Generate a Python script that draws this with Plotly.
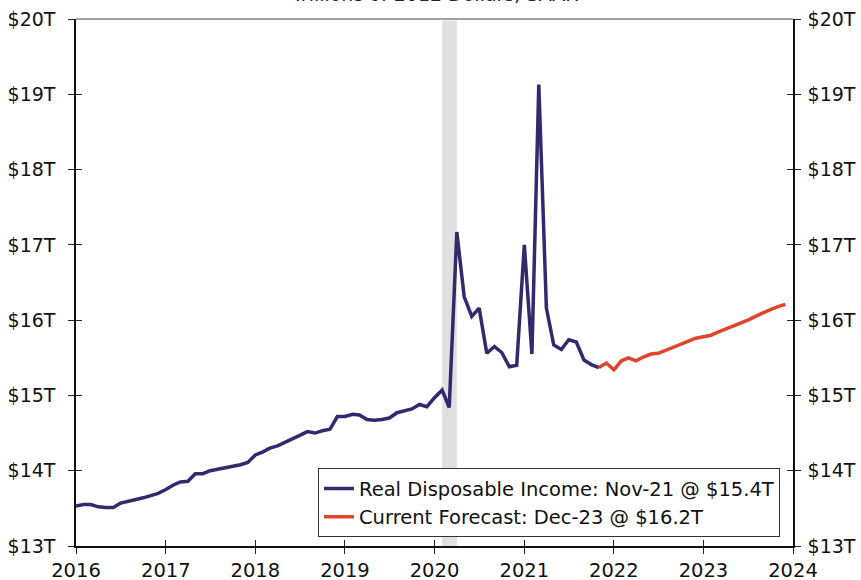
import pandas as pd
import plotly.graph_objects as go

# ---- data ----
history_dates = pd.date_range("2016-01-01", "2021-11-01", freq="MS")
history_values = [
    13.53, 13.55, 13.55, 13.52, 13.51, 13.51, 13.57, 13.59, 13.62, 13.64, 13.67, 13.70,
    13.75, 13.81, 13.85, 13.86, 13.96, 13.96, 14.00, 14.02, 14.03, 14.06, 14.08, 14.11,
    14.21, 14.25, 14.30, 14.33, 14.38, 14.43, 14.47, 14.52, 14.50, 14.53, 14.55, 14.72,
    14.72, 14.75, 14.74, 14.68, 14.67, 14.68, 14.70, 14.77, 14.80, 14.82, 14.88, 14.85,
    14.97, 15.07, 14.84, 17.17, 16.31, 16.05, 16.16, 15.56, 15.65, 15.57, 15.38, 15.40,
    17.00, 15.55, 19.13, 16.16, 15.67, 15.61, 15.74, 15.71, 15.47, 15.41, 15.37,
]
forecast_dates = pd.date_range("2021-11-01", "2023-12-01", freq="MS")
forecast_values = [
    15.37, 15.43,
    15.34, 15.46, 15.50, 15.46, 15.51, 15.55, 15.56, 15.60, 15.65, 15.69, 15.73, 15.76,
    15.78, 15.80, 15.84, 15.88, 15.93, 15.97, 16.00, 16.05, 16.10, 16.14, 16.18, 16.21,
]
recession = ["2020-02-01", "2020-04-01"]
history_name = "Real Disposable Income: Nov-21 @ $15.4T"
forecast_name = "Current Forecast: Dec-23 @ $16.2T"
title_text = "Trillions of 2012 Dollars, SAAR"
x_range = ["2016-01-01", "2024-01-01"]
x_ticks = ["2016-01-01", "2017-01-01", "2018-01-01", "2019-01-01", "2020-01-01",
           "2021-01-01", "2022-01-01", "2023-01-01", "2024-01-01"]
x_ticklabels = ["2016", "2017", "2018", "2019", "2020", "2021", "2022", "2023", "2024"]
y_range = [13, 20]
y_ticks = [13, 14, 15, 16, 17, 18, 19, 20]
y_ticklabels = ["$13T", "$14T", "$15T", "$16T", "$17T", "$18T", "$19T", "$20T"]

FONT = "DejaVu Sans"
NAVY = "#312a6c"
RED = "#e0442a"

fig = go.Figure()
fig.add_trace(go.Scatter(x=history_dates, y=history_values, mode="lines",
                         name=history_name, line=dict(color=NAVY, width=3.5),
                         hoverinfo="skip"))
fig.add_trace(go.Scatter(x=forecast_dates, y=forecast_values, mode="lines",
                         name=forecast_name, line=dict(color=RED, width=3.5),
                         hoverinfo="skip"))
# empty helper traces so the overlay axes (cross-style ticks, right axis) are drawn
for xa, ya in [("x2", "y2"), ("x", "y3"), ("x", "y4")]:
    fig.add_trace(go.Scatter(x=[], y=[], xaxis=xa, yaxis=ya, showlegend=False,
                             hoverinfo="skip"))

fig.add_shape(type="rect", xref="x", yref="paper", x0=recession[0], x1=recession[1],
              y0=0, y1=0.997, fillcolor="#e0e0e0", line=dict(width=0), layer="below")
# top border
fig.add_shape(type="line", xref="paper", yref="paper", x0=0, x1=1, y0=1, y1=1,
              line=dict(color="#808080", width=1.5))

fig.add_annotation(text=title_text, xref="paper", yref="paper", x=0.5, y=1.047,
                   yanchor="middle", showarrow=False,
                   font=dict(family=FONT, size=19, color="#222"))

tick_common = dict(ticklen=6, tickwidth=1, tickcolor="#222", automargin=False)
fig.update_layout(
    width=861, height=580,
    margin=dict(l=76, r=68, t=19, b=34),
    paper_bgcolor="white", plot_bgcolor="white",
    font=dict(family=FONT, size=18, color="#111"),
    showlegend=True,
    legend=dict(x=0.3375, y=0.1476, xanchor="left", yanchor="top",
                bgcolor="white", bordercolor="#333", borderwidth=1,
                font=dict(family=FONT, size=19.5, color="#111"),
                itemwidth=30, tracegroupgap=0),
    xaxis=dict(type="date", range=x_range, tickvals=x_ticks, ticktext=x_ticklabels,
               showgrid=False, zeroline=False, showline=True, linecolor="#111",
               linewidth=1.5, ticks="outside", **tick_common, ticklabelstandoff=0,
               tickfont=dict(family=FONT, size=19.5)),
    xaxis2=dict(type="date", overlaying="x", anchor="y", side="bottom",
                range=x_range, tickvals=x_ticks, showgrid=False, zeroline=False,
                showline=False, ticks="inside", showticklabels=False, **tick_common),
    yaxis=dict(range=y_range, tickvals=y_ticks, ticktext=y_ticklabels,
               showgrid=False, zeroline=False, showline=True, linecolor="#111",
               linewidth=1.5, ticks="outside", **tick_common, ticklabelstandoff=9,
               tickfont=dict(family=FONT, size=19)),
    yaxis2=dict(range=y_range, overlaying="y", side="right", anchor="x2",
                tickvals=y_ticks, ticktext=y_ticklabels,
                showgrid=False, zeroline=False, showline=True, linecolor="#111",
                linewidth=1.5, ticks="outside", **tick_common, ticklabelstandoff=3,
                tickfont=dict(family=FONT, size=19)),
    yaxis3=dict(range=y_range, overlaying="y", side="left", anchor="x",
                tickvals=y_ticks, showticklabels=False, showgrid=False,
                zeroline=False, showline=False, ticks="inside", **tick_common),
    yaxis4=dict(range=y_range, overlaying="y", side="right", anchor="x",
                tickvals=y_ticks, showticklabels=False, showgrid=False,
                zeroline=False, showline=False, ticks="inside", **tick_common),
)

fig.write_html("out.html")
